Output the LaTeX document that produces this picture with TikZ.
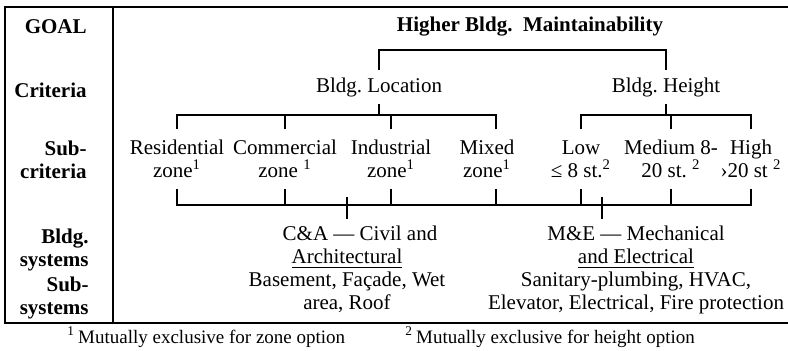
\documentclass[tikz,border=0pt]{standalone}
\usepackage{fontspec}
\setmainfont{Liberation Serif}
\frenchspacing
\newcommand{\mainsz}{\fontsize{10.5}{11.5}\selectfont}
\newcommand{\notesz}{\fontsize{9.5}{11}\selectfont}
\newcommand{\fn}[1]{\textsuperscript{#1}}

\begin{document}
\begin{tikzpicture}[x=0.5pt, y=-0.5pt, line width=0.7pt,
    every node/.style={font=\mainsz},
    rowlbl/.style={font=\mainsz\bfseries, anchor=east, align=right},
    subcrit/.style={align=center, minimum height=29pt, inner sep=0pt},
    sysblk/.style={align=center, anchor=north}]
  \useasboundingbox (0,0) rectangle (788,351);
  % table frame
  \draw (788,7) -- (5,7) -- (5,323) -- (788,323);
  \draw (113,7) -- (113,323);

  % row labels
  \node[rowlbl] (goal) at (94,27) {GOAL};
  \node[rowlbl] (crit) at (94,90) {Criteria};
  \node[rowlbl] (subcrit) at (94,160) {Sub-\\criteria};
  \node[rowlbl] (bsys) at (96,250) {Bldg.\\systems};
  \node[rowlbl] (subsys) at (96,298) {Sub-\\systems};

  % goal and criteria
  \node[font=\mainsz\bfseries] (maint) at (530,27) {Higher Bldg.\ \ Maintainability};
  \node (loc) at (379,87) {Bldg. Location};
  \node (hgt) at (666,87) {Bldg. Height};

  % sub-criteria
  \node[subcrit] (res) at (177,159) {Residential\\zone\fn{1}};
  \node[subcrit] (com) at (285,159) {Commercial\\zone \fn{1}};
  \node[subcrit] (ind) at (391,159) {Industrial\\zone\fn{1}};
  \node[subcrit] (mix) at (487,159) {Mixed\\zone\fn{1}};
  \node[subcrit] (low) at (581,159) {Low\\≤ 8 st.\fn{2}};
  \node[subcrit] (med) at (671,159) {Medium 8-\\20 st. \fn{2}};
  \node[subcrit] (high) at (751,159) {High\\›20 st \fn{2}};

  % building systems
  \node[sysblk] (ca) at (347,219)
    {\hspace*{13pt}C\&A — Civil and\\\underline{Architectural}\\Basement, Façade, Wet\\area, Roof};
  \node[sysblk] (me) at (636,219)
    {M\&E — Mechanical\\\underline{and Electrical}\\Sanitary-plumbing, HVAC,\\Elevator, Electrical, Fire protection};

  % footnotes
  \node[font=\notesz, anchor=west] (fnz) at (60,337) {\fn{1}\,Mutually exclusive for zone option};
  \node[font=\notesz, anchor=west] (fnh) at (398,337) {\fn{2}\,Mutually exclusive for height option};

  % brackets
  \coordinate (goalbar) at (522,50);
  \coordinate (locbar) at (379,115);
  \coordinate (hgtbar) at (666,115);
  \coordinate (sysbar) at (464,205);
  \coordinate (catick) at (347,197);
  \coordinate (metick) at (602,197);
  \draw (loc.north) |- (goalbar) -| (hgt.north);
  \draw (loc.south) -- (locbar);
  \draw (hgt.south) -- (hgtbar);
  \foreach \n in {res,com,ind}
    \draw (\n.north) |- (locbar);
  \draw ([xshift=4.5pt]mix.north) |- (locbar);
  \foreach \n in {low,med,high}
    \draw (\n.north) |- (hgtbar);
  \foreach \n in {res,com,ind,low,med,high}
    \draw (\n.south) |- (sysbar);
  \draw ([xshift=4.5pt]mix.south) |- (sysbar);
  \draw (catick) -- (catick |- ca.north);
  \draw (metick) -- (metick |- me.north);
\end{tikzpicture}
\end{document}
